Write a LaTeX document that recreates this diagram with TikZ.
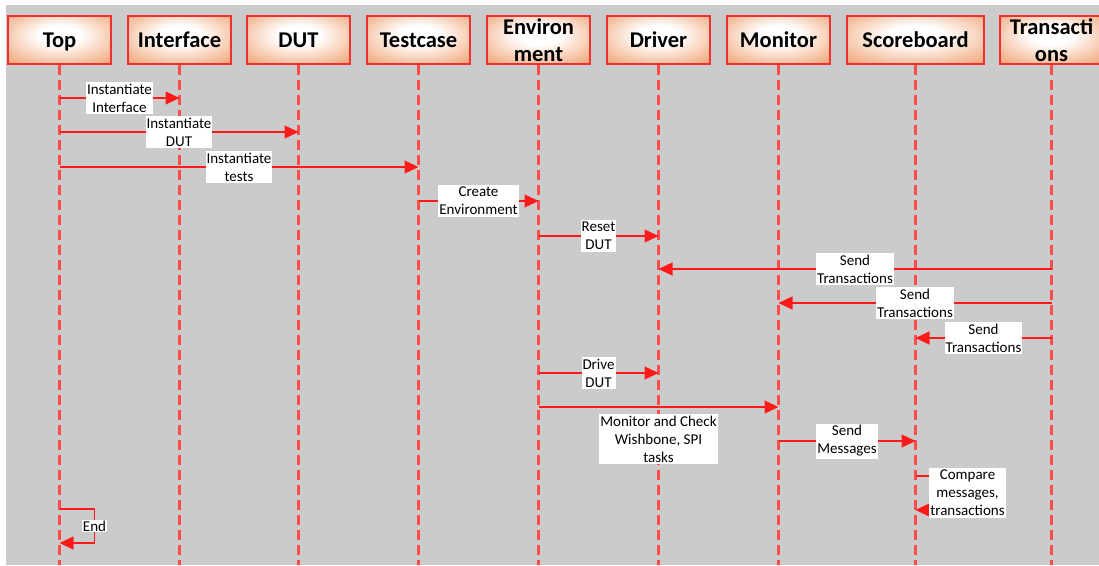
\documentclass[tikz,border=0pt]{standalone}
\usepackage{fontspec}
\setmainfont{Carlito}
\usetikzlibrary{arrows.meta}
\definecolor{bggray}{HTML}{CBCBCB}
\definecolor{lred}{HTML}{FF1A1A}
\definecolor{boxorange}{HTML}{F0925A}
\definecolor{boxred}{HTML}{F03030}
\definecolor{boxdark}{HTML}{E07840}
\pgfdeclareradialshading{hdrshade}{\pgfpoint{0bp}{6bp}}{color(0bp)=(white); color(10bp)=(white); color(42bp)=(boxorange); color(75bp)=(boxdark)}
\tikzset{
  hdr/.style={draw=boxred, line width=1.4pt, shading=hdrshade, minimum width=103pt, minimum height=48pt, inner sep=0pt, text depth=0pt, font=\fontsize{22.5}{26.5}\selectfont\bfseries, align=center},
  life/.style={draw=lred!78!white, line width=2.2pt, dash pattern=on 10pt off 5pt},
  msg/.style={draw=lred, line width=1.4pt, -{Triangle[length=14pt,width=13pt]}},
  lbl/.style={fill=white, inner xsep=1pt, inner ysep=2pt, font=\fontsize{15}{18}\selectfont, align=center}
}
\begin{document}
\begin{tikzpicture}[x=1pt, y=-1pt]
\useasboundingbox (0,0) rectangle (1099,565);
\clip (0,0) rectangle (1099,565);
\fill[bggray] (6,5) rectangle (1099,565);
% headers
\node[hdr] (hTop) at (59.5,40) {Top};
\node[hdr] (hIf)  at (179.5,40) {Interface};
\node[hdr] (hDut) at (298.5,40) {DUT};
\node[hdr] (hTc)  at (418.5,40) {Testcase};
\node[hdr] (hEnv) at (538.5,40) {Environ\\ment};
\node[hdr] (hDrv) at (658.5,40) {Driver};
\node[hdr] (hMon) at (778.5,40) {Monitor};
\node[hdr, minimum width=137pt] (hSb) at (915.5,40) {Scoreboard};
\node[hdr] (hTr)  at (1051.5,40) {Transacti\\ons};
% lifelines
\foreach \n in {hTop,hIf,hDut,hTc,hEnv,hDrv,hMon,hSb,hTr}
  \draw[life] (\n.south) -- (\n.south |- 0,565);
% messages
\draw[msg] (hTop |- 0,98) -- node[lbl]{Instantiate\\Interface} (hIf |- 0,98);
\draw[msg] (hTop |- 0,132) -- node[lbl]{Instantiate\\DUT} (hDut |- 0,132);
\draw[msg] (hTop |- 0,167) -- node[lbl]{Instantiate\\tests} (hTc |- 0,167);
\draw[msg] (hTc |- 0,201) -- node[lbl]{Create\\Environment} (hEnv |- 0,201);
\draw[msg] (hEnv |- 0,236) -- node[lbl]{Reset\\DUT} (hDrv |- 0,236);
\draw[msg] (hTr |- 0,269) -- node[lbl]{Send\\Transactions} (hDrv |- 0,269);
\draw[msg] (hTr |- 0,303) -- node[lbl]{Send\\Transactions} (hMon |- 0,303);
\draw[msg] (hTr |- 0,338) -- node[lbl]{Send\\Transactions} (hSb |- 0,338);
\draw[msg] (hEnv |- 0,373) -- node[lbl]{Drive\\DUT} (hDrv |- 0,373);
\draw[msg] (hEnv |- 0,407) -- node[lbl, below=6pt]{Monitor and Check\\Wishbone, SPI\\tasks} (hMon |- 0,407);
\draw[msg] (hMon |- 0,441) -- node[lbl]{Send\\Messages} (hSb |- 0,441);
\draw[msg] (hSb |- 0,476) -- ++(52,0) -- node[lbl]{Compare\\messages,\\transactions} ++(0,34) -- (hSb |- 0,510);
\draw[msg] (hTop |- 0,509) -- ++(35,0) -- node[lbl, inner xsep=0.5pt, inner ysep=0.5pt]{End} ++(0,34) -- (hTop |- 0,543);
\end{tikzpicture}
\end{document}
